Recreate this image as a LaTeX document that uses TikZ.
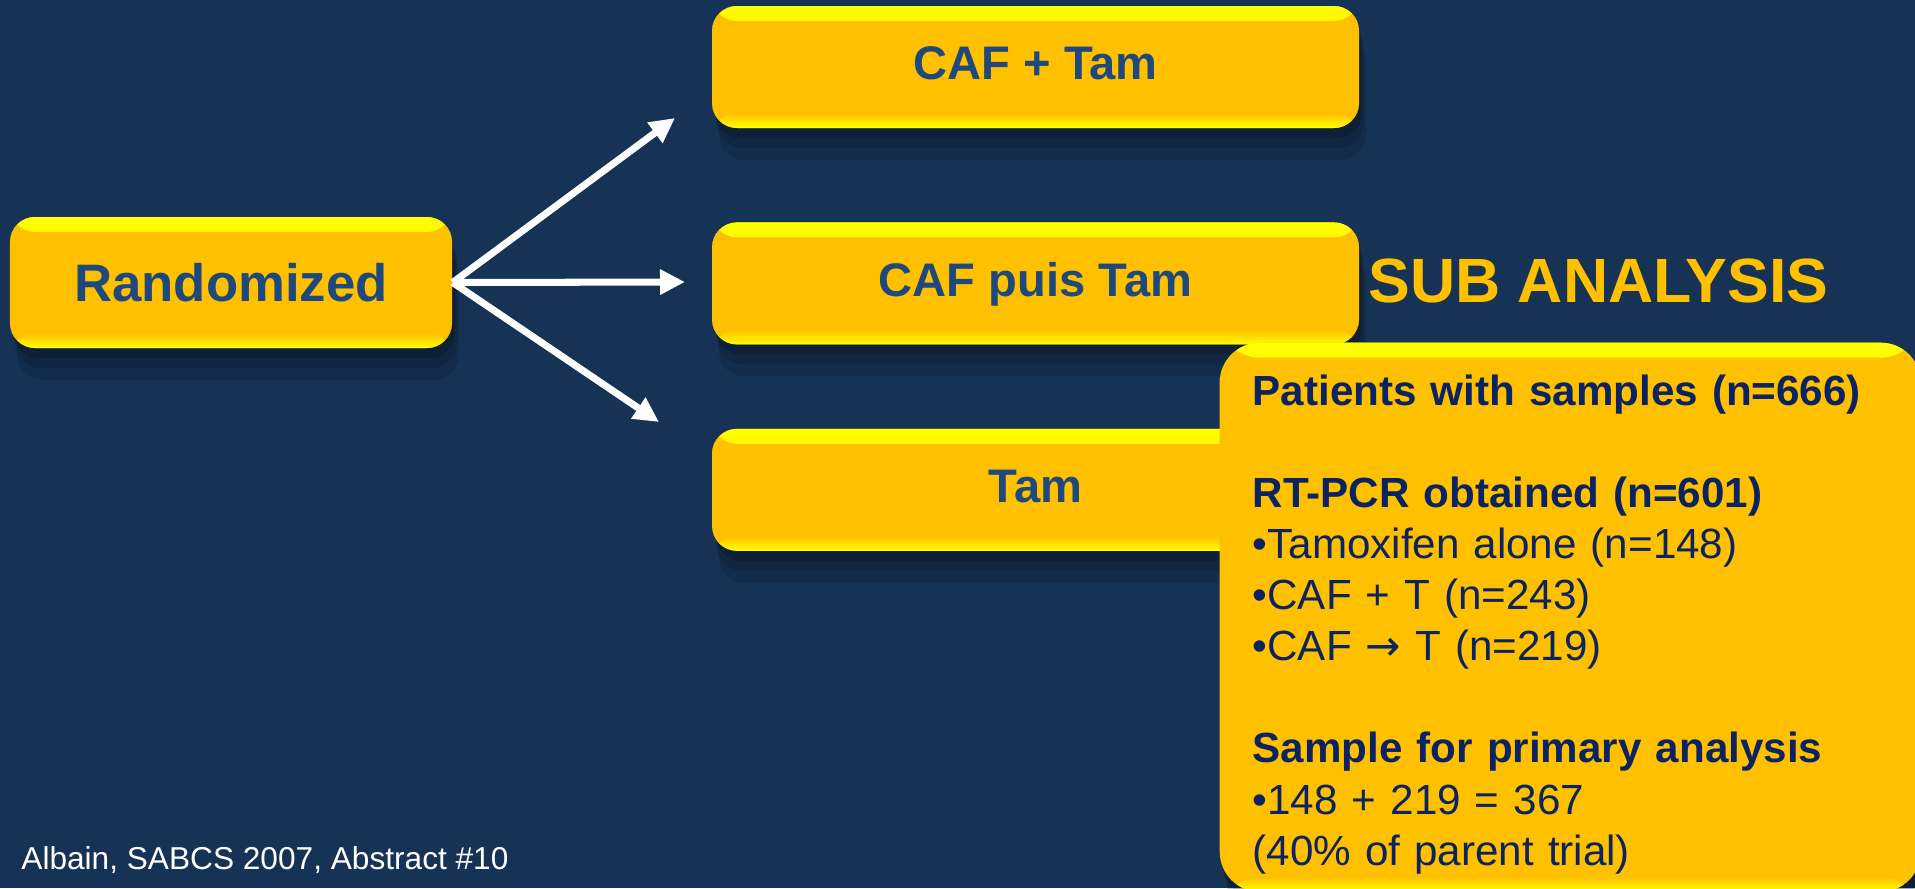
\documentclass[tikz,border=0pt]{standalone}
\usepackage{fontspec}
\setmainfont{Liberation Sans}
\newfontfamily\arrowfont{DejaVu Sans}
\usepackage{tikz}
\usetikzlibrary{positioning, arrows.meta, shadows}

\definecolor{slidenavy}{HTML}{163255}
\definecolor{boxgold}{HTML}{FFC000}
\definecolor{boxyellow}{HTML}{FFFF00}
\definecolor{boxtext}{HTML}{1F497D}
\definecolor{subtext}{HTML}{0B2360}

\tikzset{
  goldbevel/.style={path picture={
      \shade[top color=boxyellow, bottom color=boxgold]
        (path picture bounding box.north west) rectangle ([yshift=-#1]path picture bounding box.north east);
      \shade[top color=boxgold, bottom color=boxyellow]
        ([yshift=#1]path picture bounding box.south west) rectangle (path picture bounding box.south east);
    }},
  softshadow/.style={
    drop shadow={shadow xshift=0.3mm, shadow yshift=-1mm, opacity=0.15, fill=black},
    drop shadow={shadow xshift=0.5mm, shadow yshift=-2mm, opacity=0.12, fill=black},
    drop shadow={shadow xshift=0.7mm, shadow yshift=-3.2mm, opacity=0.1, fill=black}},
  goldbox/.style={rounded corners=2.5mm, fill=boxgold, goldbevel=1.5mm, softshadow},
  randbox/.style={goldbox, minimum width=4.42cm, minimum height=1.31cm, text=boxtext,
    font=\fontsize{15}{18}\selectfont\bfseries},
  armbox/.style={goldbox, minimum width=6.47cm, minimum height=1.22cm, text=boxtext,
    text height=1.38ex, text depth=0pt, font=\fontsize{13.4}{16}\selectfont\bfseries},
  subbox/.style={goldbox, rounded corners=4mm, text=subtext, align=left,
    font=\fontsize{12}{14.54}\selectfont},
  arm/.style={draw=white, line width=2pt, -{Triangle[length=2.5mm, width=2.4mm]}}
}

\begin{document}
\begin{tikzpicture}
  \path[use as bounding box, fill=slidenavy] (0,0) rectangle (19.15,8.88);

  % start box and the three arms
  \node[randbox] (rand) at (2.31,6.055) {Randomized};
  \node[armbox] (caftam) at (10.355,8.21) {CAF + Tam};
  \node[armbox, below=0.93cm of caftam] (cafpuis) {CAF puis Tam};
  \node[armbox, below=0.83cm of cafpuis] (tam) {Tam};

  % arrow tips stop short of the boxes
  \coordinate (tipup) at (6.75,7.70);
  \coordinate (tipmid) at (6.85,6.06);
  \coordinate (tipdown) at (6.59,4.66);
  \draw[arm] (rand.east) -- (tipup);
  \draw[arm] (rand.east) -- (tipmid);
  \draw[arm] (rand.east) -- (tipdown);

  % sub analysis
  \node[anchor=base west, text=boxgold, font=\fontsize{17.8}{21}\selectfont\bfseries]
    (subtitle) at (13.56,5.86) {SUB ANALYSIS};
  \node[subbox, anchor=north west, text width=6.35cm, inner xsep=0.33cm,
    minimum height=5.49cm] (sub) at (12.19,5.46) {\rule{0pt}{12.7pt}%
    \textbf{Patients with samples (n=666)}\\[14.54pt]
    \textbf{RT-PCR obtained (n=601)}\\
    •Tamoxifen alone (n=148)\\
    •CAF + T (n=243)\\
    •CAF {\arrowfont →} T (n=219)\\[14.54pt]
    \textbf{Sample for primary analysis}\\
    •148 + 219 = 367\\
    (40\% of parent trial)};

  \node[anchor=base west, text=white, font=\fontsize{9}{11}\selectfont]
    (cite) at (0.09,0.19) {Albain, SABCS 2007, Abstract \#10};
\end{tikzpicture}
\end{document}
